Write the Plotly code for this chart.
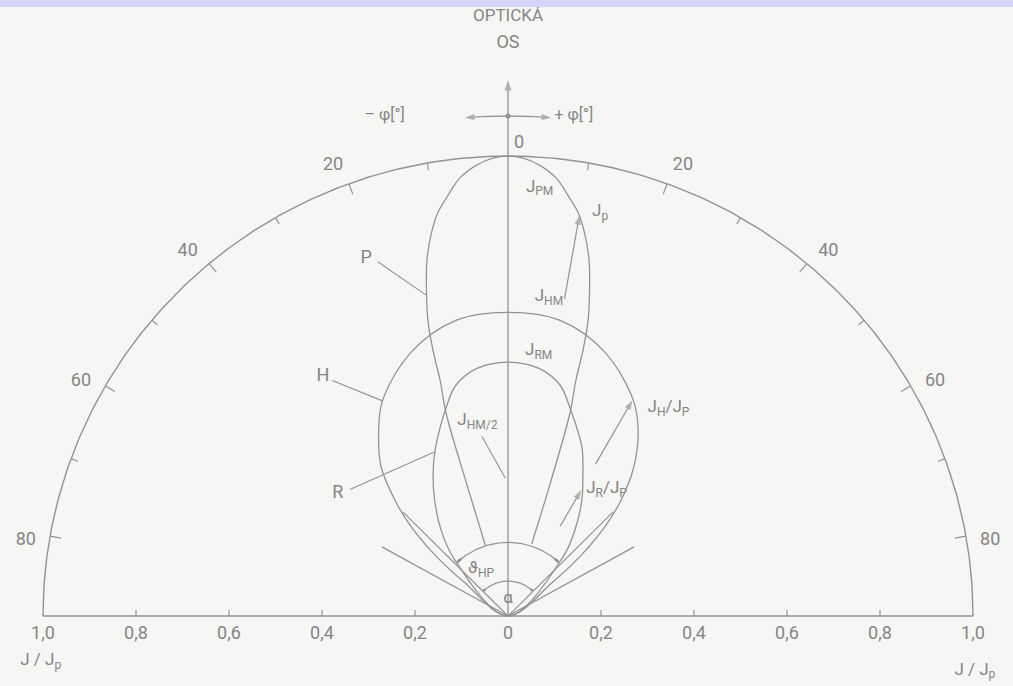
import numpy as np
import plotly.graph_objects as go

# ---------------- data (polar: angle from optical axis [deg], relative intensity J/Jp) -------------
# lobe P
P_THETA = [-17.6, -17.2, -16.8, -15.9, -15.6, -15.0, -13.9, -12.7, -11.3, -9.8, -8.0, -6.2, -4.0,
           -1.9, 0.0, 1.9, 4.0, 6.2, 8.0, 9.8, 11.3, 12.7, 13.9, 15.0, 15.6, 15.9, 16.8, 17.5,
           18.0]
P_R = [0.162, 0.300, 0.461, 0.533, 0.600, 0.666, 0.730, 0.793, 0.845, 0.889, 0.924, 0.958, 0.982,
       0.996, 1.000, 0.996, 0.982, 0.958, 0.924, 0.889, 0.845, 0.793, 0.730, 0.666, 0.600, 0.533,
       0.461, 0.300, 0.165]

# lobe H
H_THETA = [-54, -52, -50, -47, -44, -40, -35, -30, -20, -10, 0, 10, 20, 30, 35, 40, 44, 47, 50,
           52.5, 54.5]
H_R = [0.0, 0.120, 0.200, 0.285, 0.350, 0.425, 0.485, 0.540, 0.610, 0.652, 0.660, 0.652, 0.610,
       0.540, 0.488, 0.420, 0.350, 0.285, 0.205, 0.120, 0.0]

# lobe R
R_THETA = [-49, -43, -37.6, -32, -27.4, -23.6, -16.3, -12.6, -7.2, 0, 7.2, 12.6, 16.3, 23.4, 27.4,
           32.2, 37.6, 42.7, 49]
R_R = [0.0, 0.170, 0.236, 0.298, 0.350, 0.392, 0.473, 0.514, 0.542, 0.552, 0.542, 0.514, 0.473,
       0.400, 0.350, 0.298, 0.236, 0.174, 0.0]

# straight rays from the source (angle, outer radius)
RAY_THETA = [-61, -45, 45, 61]
RAY_R = [0.31, 0.32, 0.32, 0.31]

# dimension arcs (radius, half-angle)
THETA_HP_ARC = (0.160, 43)
ALPHA_ARC = (0.076, 44)

# radius-vector arrows (angle, tail r, tip r)
ARROW_THETA = [10.0, 29.7, 29.9]
ARROW_TAIL = [0.70, 0.38, 0.225]
ARROW_TIP = [0.885, 0.540, 0.316]

# scales
ANGLE_TICKS = list(range(-80, 81, 10))
ANGLE_LABELS = [-80, -60, -40, -20, 0, 20, 40, 60, 80]
RADIAL_TICKS = [-1.0, -0.8, -0.6, -0.4, -0.2, 0.0, 0.2, 0.4, 0.6, 0.8, 1.0]
RADIAL_TEXT = ["1,0", "0,8", "0,6", "0,4", "0,2", "0", "0,2", "0,4", "0,6", "0,8", "1,0"]

LINE = "#939393"
TEXT = "#858585"
FONT = "Roboto"

# pixels per data unit (x, y) for the 1013 x 686 canvas
PX_X, PX_Y = 465.0, 460.0


def to_xy(theta_deg, r):
    th = np.radians(np.asarray(theta_deg, dtype=float))
    r = np.asarray(r, dtype=float)
    return r * np.sin(th), r * np.cos(th)


fig = go.Figure()


def add_line(x, y, width=1.3, shape="linear", color=LINE, smoothing=1.0):
    fig.add_trace(go.Scatter(x=x, y=y, mode="lines", hoverinfo="skip", showlegend=False,
                             line=dict(color=color, width=width, shape=shape,
                                       smoothing=smoothing)))


def add_arrow(x, y, width=1.2, head=9):
    # line with an arrow marker on its last point, oriented along the line
    n = len(x)
    fig.add_trace(go.Scatter(x=x, y=y, mode="lines+markers", hoverinfo="skip", showlegend=False,
                             line=dict(color=LINE, width=width),
                             marker=dict(symbol="arrow", angleref="previous",
                                         size=[0] * (n - 1) + [head], color=LINE,
                                         line=dict(width=0))))


# outer scale: half circle r = 1 and the base line
arc_t = np.linspace(-90, 90, 361)
ax_, ay_ = to_xy(arc_t, np.ones_like(arc_t))
add_line(ax_, ay_, 1.4)
add_line([RADIAL_TICKS[0], RADIAL_TICKS[-1]], [0, 0], 1.4)

# angle ticks on the circle (pointing inward)
for t in ANGLE_TICKS:
    if t == 0:
        continue
    inner = 0.976 if t % 20 == 0 else 0.984
    x, y = to_xy([t, t], [1.0, inner])
    add_line(x, y, 1.2)

# ticks on the base line
for v in RADIAL_TICKS:
    if v in (-1.0, 0.0, 1.0):
        continue
    add_line([v, v], [0, 0.013], 1.2)

# optical axis with its arrowhead
add_arrow([0, 0, 0], [0, 1.10, 1.165], 1.3, 11)

# +/- phi direction arrows (short arcs around the source)
for sign in (-1, 1):
    t = np.linspace(0, sign * 4.9, 12)
    x, y = to_xy(t, np.full_like(t, 1.087))
    add_arrow(list(x), list(y), 1.3, 10)
fig.add_trace(go.Scatter(x=[0], y=[1.087], mode="markers", hoverinfo="skip", showlegend=False,
                         marker=dict(color=LINE, size=5)))

# lobes
x, y = to_xy(P_THETA, P_R)
add_line(x, y, 1.3, "spline")
x, y = to_xy(H_THETA, H_R)
add_line(x, y, 1.3, "spline")
x, y = to_xy(R_THETA, R_R)
add_line(x, y, 1.3, "spline")

# rays
for t, r in zip(RAY_THETA, RAY_R):
    x, y = to_xy([t, t], [0, r])
    add_line(x, y, 1.2)

# dimension arcs with heavier end marks
for rad, half in (THETA_HP_ARC, ALPHA_ARC):
    t = np.linspace(-half, half, 121)
    x, y = to_xy(t, np.full_like(t, rad))
    add_line(x, y, 1.2)
    for a, b in ((-half, -half + 4), (half - 4, half)):
        tt = np.linspace(a, b, 8)
        x, y = to_xy(tt, np.full_like(tt, rad))
        add_line(x, y, 2.6)

# radius-vector arrows
for t, r0, r1 in zip(ARROW_THETA, ARROW_TAIL, ARROW_TIP):
    x, y = to_xy([t, t], [r0, r1])
    add_arrow(list(x), list(y), 1.2, 10)

# leader lines for the curve names (label anchor -> curve)
LEADERS = [((-0.280, 0.770), to_xy(-14.2, 0.720)),
           ((-0.378, 0.512), to_xy(-30.0, 0.540)),
           ((-0.340, 0.275), to_xy(-23.8, 0.390)),
           ((-0.056, 0.390), (-0.006, 0.300))]
for (x0, y0), (x1, y1) in LEADERS:
    add_line([x0, float(x1)], [y0, float(y1)], 1.1)


def labels(xs, ys, texts, size=17, position="middle center"):
    fig.add_trace(go.Scatter(x=list(xs), y=list(ys), text=list(texts), mode="text",
                             textposition=position, hoverinfo="skip", showlegend=False,
                             textfont=dict(family=FONT, size=size, color=TEXT)))


# approximate advance widths (em) used to lay out symbols with subscripts
ADVANCE = {"J": 0.55, "P": 0.63, "M": 0.87, "H": 0.71, "R": 0.62, "p": 0.56, "/": 0.41,
           "2": 0.56, "ϑ": 0.58, " ": 0.25}


def symbol(cx, cy, pieces, size=17):
    """Centred label built from (text, is_subscript) pieces."""
    sub_size = round(size * 0.72)
    widths = [sum(ADVANCE.get(ch, 0.6) for ch in s) * (sub_size if sub else size)
              for s, sub in pieces]
    pos = -sum(widths) / 2.0
    for (s, sub), w in zip(pieces, widths):
        dy = -0.30 * size if sub else 0.0
        labels([cx + pos / PX_X], [cy + dy / PX_Y], [s], sub_size if sub else size,
               "middle right")
        pos += w


# angle labels
ang_x, ang_y, ang_t = [], [], []
for t in ANGLE_LABELS:
    if t == 0:
        ang_x.append(0.024)
        ang_y.append(1.027)
    else:
        x, y = to_xy(t + (1.0 if t > 0 else -1.0), 1.05)
        ang_x.append(float(x))
        ang_y.append(float(y))
    ang_t.append(str(abs(t)))
labels(ang_x, ang_y, ang_t, 18)

# base-line labels
labels(RADIAL_TICKS, [-0.040] * len(RADIAL_TICKS), RADIAL_TEXT, 18)
symbol(-1.005, -0.098, [("J / J", False), ("p", True)])
symbol(1.004, -0.118, [("J / J", False), ("p", True)])

# headings
labels([0.0], [1.302], ["OPTICKÁ"], 17)
labels([0.0], [1.245], ["OS"], 18)
labels([-0.222], [1.086], ["– φ[°]"], 16, "middle left")
labels([0.100], [1.086], ["+ φ[°]"], 16, "middle right")

# curve and quantity labels
symbol(0.068, 0.932, [("J", False), ("PM", True)])
symbol(0.198, 0.878, [("J", False), ("p", True)])
symbol(0.088, 0.694, [("J", False), ("HM", True)])
symbol(0.066, 0.576, [("J", False), ("RM", True)])
symbol(-0.066, 0.424, [("J", False), ("HM/2", True)])
symbol(0.345, 0.452, [("J", False), ("H", True), ("/J", False), ("P", True)])
symbol(0.212, 0.276, [("J", False), ("R", True), ("/J", False), ("P", True)])
symbol(-0.058, 0.103, [("ϑ", False), ("HP", True)])
labels([0.0], [0.038], ["α"], 17)
labels([-0.305, -0.398, -0.366], [0.778, 0.520, 0.267], ["P", "H", "R"], 18)

fig.update_layout(
    width=1013, height=686,
    margin=dict(l=0, r=0, t=0, b=0),
    paper_bgcolor="#f6f6f5", plot_bgcolor="#f6f6f5",
    xaxis=dict(range=[-508 / PX_X, (1013 - 508) / PX_X], visible=False, fixedrange=True),
    yaxis=dict(range=[(616 - 686) / PX_Y, 616 / PX_Y], visible=False, fixedrange=True),
    shapes=[dict(type="rect", xref="paper", yref="paper", x0=0, x1=1, y0=1 - 7 / 686, y1=1,
                 fillcolor="#d4d4fc", line=dict(width=0), layer="above")],
)

fig.write_html("out.html")
